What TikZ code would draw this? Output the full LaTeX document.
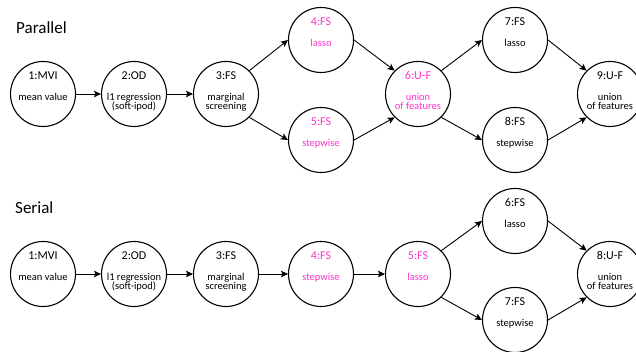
\documentclass[tikz,border=0pt]{standalone}
\usepackage{fontspec}
\setmainfont{Carlito}
\usetikzlibrary{arrows.meta}
\definecolor{hot}{RGB}{255,51,204}
\tikzset{
  stage/.style={circle,draw=black,line width=1.1pt,minimum size=65pt,inner sep=0pt},
  ttl/.style={anchor=base,inner sep=0pt,font=\fontsize{12}{14}\selectfont},
  sub/.style={anchor=base,inner sep=0pt,font=\fontsize{10.5}{12}\selectfont},
  hdr/.style={anchor=base west,inner sep=0pt,font=\fontsize{17}{20}\selectfont},
  link/.style={line width=0.9pt,-{Stealth[length=7pt,width=6.5pt,inset=1.5pt]}},
}
\begin{document}
\begin{tikzpicture}[x=1pt,y=1pt]
\useasboundingbox (0,0) rectangle (636,352);
\clip (0,0) rectangle (636,352);

% headers
\node[hdr] (hp) at (16,318) {Parallel};
\node[hdr] (hs) at (15,138) {Serial};

% ---------- Parallel ----------
\node[stage] (p1) at (43,258) {};
\node[stage] (p2) at (134,258) {};
\node[stage] (p3) at (226,258) {};
\node[stage] (p4) at (321,312) {};
\node[stage] (p5) at (321,212) {};
\node[stage] (p6) at (418,258) {};
\node[stage] (p7) at (515,312) {};
\node[stage] (p8) at (515,212) {};
\node[stage] (p9) at (610,258) {};

\node[ttl,yshift=14pt] (p1t) at (p1) {1:MVI};
\node[sub,yshift=-6.5pt] (p1a) at (p1) {mean value};
\node[ttl,yshift=14pt] (p2t) at (p2) {2:OD};
\node[sub,yshift=-6.5pt] (p2a) at (p2) {l1 regression};
\node[sub,yshift=-16pt] (p2b) at (p2) {(soft-ipod)};
\node[ttl,yshift=14pt] (p3t) at (p3) {3:FS};
\node[sub,yshift=-6.5pt] (p3a) at (p3) {marginal};
\node[sub,yshift=-16pt] (p3b) at (p3) {screening};
\node[ttl,yshift=14pt,text=hot] (p4t) at (p4) {4:FS};
\node[sub,yshift=-6.5pt,text=hot] (p4a) at (p4) {lasso};
\node[ttl,yshift=14pt,text=hot] (p5t) at (p5) {5:FS};
\node[sub,yshift=-6.5pt,text=hot] (p5a) at (p5) {stepwise};
\node[ttl,yshift=14pt,text=hot] (p6t) at (p6) {6:U-F};
\node[sub,yshift=-6.5pt,text=hot] (p6a) at (p6) {union};
\node[sub,yshift=-16pt,text=hot] (p6b) at (p6) {of features};
\node[ttl,yshift=14pt] (p7t) at (p7) {7:FS};
\node[sub,yshift=-6.5pt] (p7a) at (p7) {lasso};
\node[ttl,yshift=14pt] (p8t) at (p8) {8:FS};
\node[sub,yshift=-6.5pt] (p8a) at (p8) {stepwise};
\node[ttl,yshift=14pt] (p9t) at (p9) {9:U-F};
\node[sub,yshift=-6.5pt] (p9a) at (p9) {union};
\node[sub,yshift=-16pt] (p9b) at (p9) {of features};

\draw[link] (p1.east) -- (p2.west);
\draw[link] (p2.east) -- (p3.west);
\draw[link] (p3.45) -- (p4.west);
\draw[link] (p3.-45) -- (p5.west);
\draw[link] (p4.east) -- (p6.135);
\draw[link] (p5.east) -- (p6.-135);
\draw[link] (p6.45) -- (p7.west);
\draw[link] (p6.-45) -- (p8.west);
\draw[link] (p7.east) -- (p9.135);
\draw[link] (p8.east) -- (p9.-135);

% ---------- Serial ----------
\node[stage] (s1) at (43,78) {};
\node[stage] (s2) at (134,78) {};
\node[stage] (s3) at (226,78) {};
\node[stage] (s4) at (321,78) {};
\node[stage] (s5) at (418,78) {};
\node[stage] (s6) at (515,131) {};
\node[stage] (s7) at (515,32) {};
\node[stage] (s8) at (610,78) {};

\node[ttl,yshift=14pt] (s1t) at (s1) {1:MVI};
\node[sub,yshift=-6.5pt] (s1a) at (s1) {mean value};
\node[ttl,yshift=14pt] (s2t) at (s2) {2:OD};
\node[sub,yshift=-6.5pt] (s2a) at (s2) {l1 regression};
\node[sub,yshift=-16pt] (s2b) at (s2) {(soft-ipod)};
\node[ttl,yshift=14pt] (s3t) at (s3) {3:FS};
\node[sub,yshift=-6.5pt] (s3a) at (s3) {marginal};
\node[sub,yshift=-16pt] (s3b) at (s3) {screening};
\node[ttl,yshift=14pt,text=hot] (s4t) at (s4) {4:FS};
\node[sub,yshift=-6.5pt,text=hot] (s4a) at (s4) {stepwise};
\node[ttl,yshift=14pt,text=hot] (s5t) at (s5) {5:FS};
\node[sub,yshift=-6.5pt,text=hot] (s5a) at (s5) {lasso};
\node[ttl,yshift=14pt] (s6t) at (s6) {6:FS};
\node[sub,yshift=-6.5pt] (s6a) at (s6) {lasso};
\node[ttl,yshift=14pt] (s7t) at (s7) {7:FS};
\node[sub,yshift=-6.5pt] (s7a) at (s7) {stepwise};
\node[ttl,yshift=14pt] (s8t) at (s8) {8:U-F};
\node[sub,yshift=-6.5pt] (s8a) at (s8) {union};
\node[sub,yshift=-16pt] (s8b) at (s8) {of features};

\draw[link] (s1.east) -- (s2.west);
\draw[link] (s2.east) -- (s3.west);
\draw[link] (s3.east) -- (s4.west);
\draw[link] (s4.east) -- (s5.west);
\draw[link] (s5.45) -- (s6.west);
\draw[link] (s5.-45) -- (s7.west);
\draw[link] (s6.east) -- (s8.135);
\draw[link] (s7.east) -- (s8.-135);
\end{tikzpicture}
\end{document}
